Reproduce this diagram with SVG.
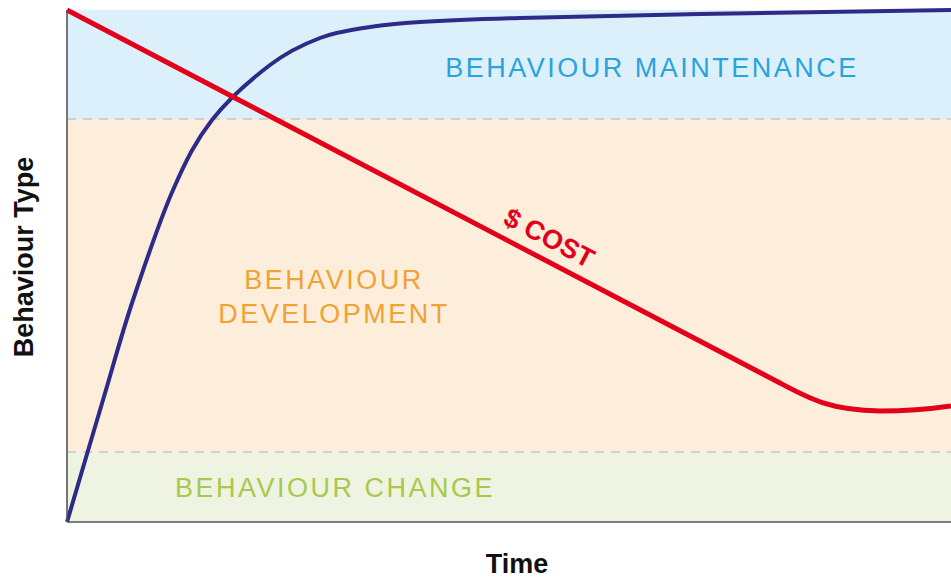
<svg xmlns="http://www.w3.org/2000/svg" width="951" height="578" viewBox="0 0 951 578">
<style>
.band-label{font-family:"Liberation Sans",Arial,sans-serif;font-size:27px;letter-spacing:2.5px;text-anchor:middle}
.axis-label{font-family:"Liberation Sans",Arial,sans-serif;font-size:27px;font-weight:bold;fill:#111;text-anchor:middle}
.dash{stroke:#c6c6c6;stroke-width:1.5;stroke-dasharray:9,7;fill:none}
.axis{stroke:#555;stroke-width:1.6;fill:none}
</style>
<rect width="951" height="578" fill="#fff"/>
<g id="bands">
<rect x="67" y="10" width="884" height="109" fill="#dcf0fc"/>
<rect x="67" y="119" width="884" height="333" fill="#fdeedc"/>
<rect x="67" y="452" width="884" height="70" fill="#eef4e1"/>
<line class="dash" x1="67" y1="119" x2="951" y2="119"/>
<line class="dash" x1="67" y1="452" x2="951" y2="452"/>
</g>
<g id="maintenance"><text class="band-label" x="652" y="77" fill="#2aa3dc">BEHAVIOUR MAINTENANCE</text></g>
<g id="development"><text class="band-label" x="334" y="289" fill="#f0a232">BEHAVIOUR</text><text class="band-label" x="334" y="323" fill="#f0a232">DEVELOPMENT</text></g>
<g id="change"><text class="band-label" x="335" y="497" fill="#a9c84c">BEHAVIOUR CHANGE</text></g>
<g id="connectors">
<path d="M67,522 C73,501.7 92,437 103,400 C114,363 121.3,335 133,300 C144.7,265 159.8,220 173,190 C186.2,160 195.8,140.8 212,120 C228.2,99.2 252,78.7 270,65 C288,51.3 303.3,44.3 320,38 C336.7,31.7 353.3,29.7 370,27 C386.7,24.3 395,23.5 420,22 C445,20.5 473.3,19.3 520,18 C566.7,16.7 628.2,15.3 700,14 C771.8,12.7 909.2,10.7 951,10" fill="none" stroke="#2e2a88" stroke-width="4"/>
<path d="M67,10 L780,383 C810,399 830,410 880,411 C910,411 930,409 951,406" fill="none" stroke="#e2001a" stroke-width="5"/>
</g>
<g id="cost"><text x="545" y="246" transform="rotate(27.6 545 246)" font-family="'Liberation Sans',Arial,sans-serif" font-size="27" font-weight="bold" fill="#e2001a" text-anchor="middle">$ COST</text></g>
<g id="axes">
<line class="axis" x1="67" y1="10" x2="67" y2="522"/>
<line class="axis" x1="67" y1="522" x2="951" y2="522"/>
<text class="axis-label" x="0" y="0" transform="translate(33,257) rotate(-90)">Behaviour Type</text>
<text class="axis-label" x="517" y="573">Time</text>
</g>
</svg>
